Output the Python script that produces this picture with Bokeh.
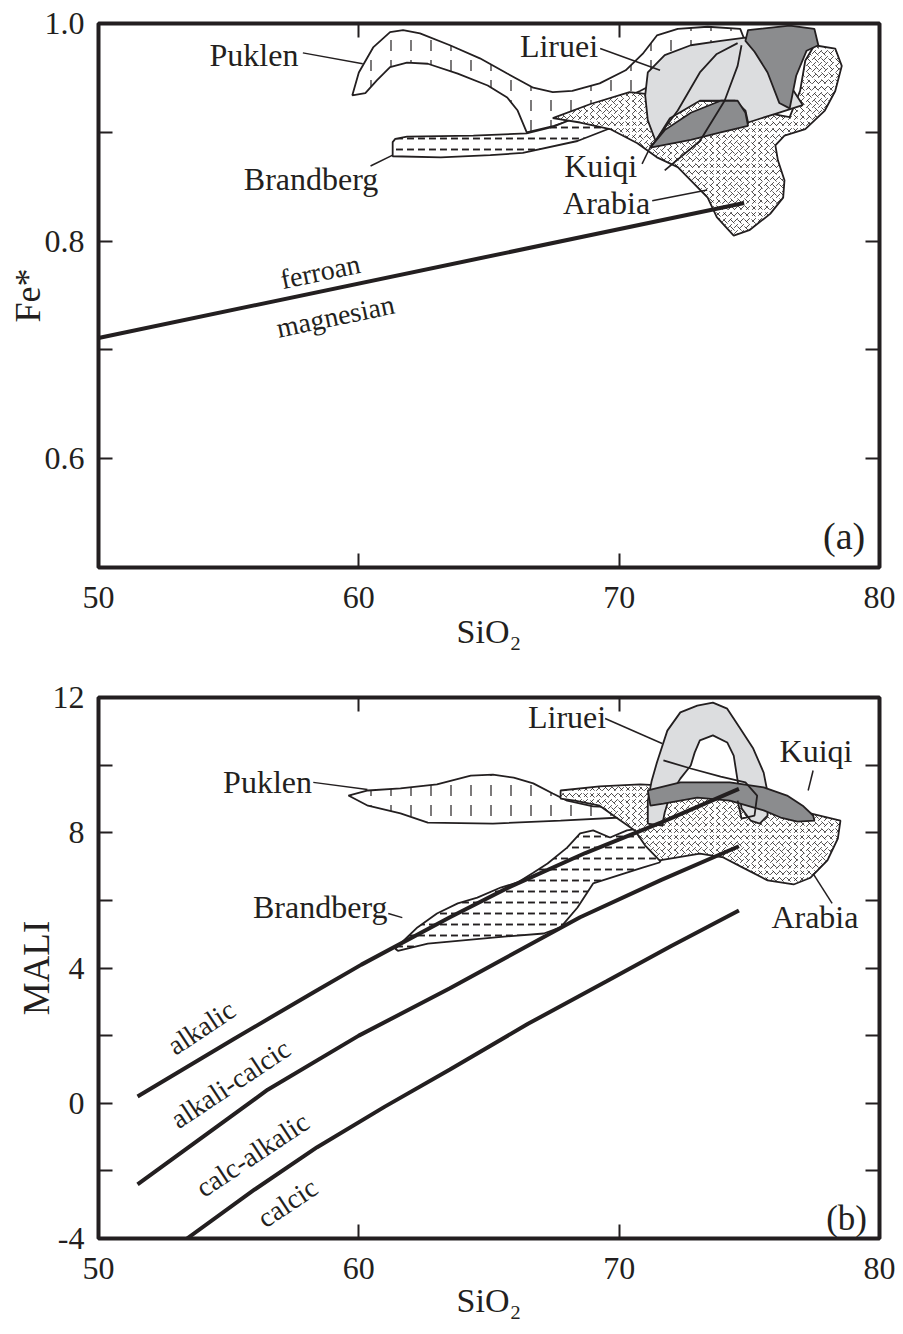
from bokeh.plotting import figure
from bokeh.models import Range1d, LinearAxis, FixedTicker
from bokeh.layouts import column
from bokeh.embed import file_html
from bokeh.resources import INLINE
from bokeh.core.properties import value

INK = "#231f20"
SERIF = "Liberation Serif"
LIGHT = "#dcdddf"
DARK = "#8b8c8e"

# ---------------- shared x axis ----------------
sio2_ticks = [50, 60, 70, 80]
sio2_title = "SiO\u2082"

# ---------------- panel (a): Fe* vs SiO2 ----------------
fe_title = "Fe*"
fe_labeled_ticks = [0.6, 0.8, 1.0]
fe_unlabeled_ticks = [0.5, 0.7, 0.9]
fe_all_ticks = [0.5, 0.6, 0.7, 0.8, 0.9, 1.0]
fe_tick_labels = {0.6: "0.6", 0.8: "0.8", 1.0: "1.0"}

ferroan_sio2 = [50.0, 74.8]
ferroan_fe = [0.711, 0.835]

puklen_a_sio2 = [59.75, 60.0, 60.55, 61.2, 61.7, 62.35, 63.5, 64.65, 65.7, 66.7,
                 67.45, 68.2, 69.25, 70.25, 70.9, 71.45, 72.25, 73.4, 74.65, 74.8,
                 73.5, 72.0, 70.5, 69.0, 67.5, 66.45, 66.1, 65.7, 64.95, 63.8,
                 62.65, 61.85, 61.2, 60.7, 60.25]
puklen_a_fe = [0.934, 0.955, 0.978, 0.992, 0.994, 0.991, 0.980, 0.968, 0.954, 0.941,
               0.937, 0.938, 0.945, 0.957, 0.972, 0.989, 0.995, 0.997, 0.995, 0.986,
               0.966, 0.950, 0.932, 0.918, 0.906, 0.900, 0.920, 0.932, 0.943, 0.954,
               0.963, 0.964, 0.960, 0.948, 0.936]

brand_a_sio2 = [61.3, 61.4, 61.85, 64.4, 66.45, 67.45, 68.5, 69.55, 70.8, 72.35, 73.9,
                74.85, 74.95, 73.9, 72.75, 71.2, 69.9, 68.4, 66.3, 65.05, 63.15, 61.3]
brand_a_fe = [0.891, 0.894, 0.896, 0.897, 0.899, 0.905, 0.915, 0.925, 0.938, 0.957, 0.975,
              0.986, 0.980, 0.959, 0.940, 0.922, 0.906, 0.892, 0.881, 0.879, 0.877, 0.878]

arabia_a_sio2 = [67.45, 68.9, 70.4, 71.55, 73.1, 74.65, 75.6, 76.55, 76.95, 77.15, 77.5,
                 78.3, 78.55, 78.3, 77.9, 77.15, 76.35, 76.0, 76.1, 76.35, 76.3, 75.8,
                 75.0, 74.4, 73.75, 73.4, 72.25, 71.45, 70.7, 69.65, 68.5]
arabia_a_fe = [0.913, 0.926, 0.937, 0.934, 0.929, 0.929, 0.918, 0.914, 0.938, 0.966, 0.980,
               0.977, 0.961, 0.938, 0.920, 0.903, 0.897, 0.888, 0.874, 0.856, 0.840, 0.825,
               0.810, 0.805, 0.822, 0.840, 0.868, 0.877, 0.890, 0.903, 0.909]

liruei_a_sio2 = [71.1, 71.75, 72.75, 73.9, 74.85, 75.6, 76.2, 76.65, 77.05, 76.0, 74.95,
                 74.85, 74.45, 73.1, 71.95, 71.4, 71.1, 71.0]
liruei_a_fe = [0.955, 0.971, 0.980, 0.984, 0.987, 0.980, 0.961, 0.940, 0.925, 0.917, 0.909,
               0.920, 0.929, 0.929, 0.913, 0.892, 0.911, 0.934]

kuiqi_a_sio2 = [[71.2, 71.75, 72.75, 73.9, 74.55, 74.85, 74.95, 73.9, 72.75],
                [74.95, 76.55, 77.5, 77.65, 77.2, 76.8, 76.55, 76.15, 75.7, 75.2, 74.85]]
kuiqi_a_fe = [[0.886, 0.902, 0.918, 0.929, 0.929, 0.918, 0.906, 0.900, 0.893],
              [0.994, 0.998, 0.995, 0.980, 0.975, 0.952, 0.922, 0.927, 0.955, 0.974, 0.984]]

inner_a_sio2 = [[71.2, 72.25, 73.1, 73.75, 74.55], [71.75, 73.1, 74.05, 74.55, 74.7]]
inner_a_fe = [[0.886, 0.920, 0.955, 0.972, 0.982], [0.865, 0.892, 0.929, 0.961, 0.980]]

a_names = ["Puklen", "Brandberg", "Liruei", "Kuiqi", "Arabia"]
a_name_sio2 = [57.68, 60.75, 69.19, 70.69, 71.19]
a_name_fe = [0.971, 0.8575, 0.979, 0.869, 0.835]
a_lead_x0 = [57.85, 60.45, 69.27, 70.88, 71.27]
a_lead_y0 = [0.973, 0.869, 0.977, 0.871, 0.837]
a_lead_x1 = [60.15, 61.3, 71.57, 71.27, 73.38]
a_lead_y1 = [0.963, 0.879, 0.957, 0.890, 0.847]

a_field_names = ["ferroan", "magnesian"]
a_field_sio2 = [58.52, 59.10]
a_field_fe = [0.772, 0.731]

a_panel_tag = ["(a)"]
a_tag_sio2 = [79.45]
a_tag_fe = [0.5285]

# ---------------- panel (b): MALI vs SiO2 ----------------
mali_title = "MALI"
mali_labeled_ticks = [-4, 0, 4, 8, 12]
mali_unlabeled_ticks = [-2, 2, 6, 10]
mali_all_ticks = [-4, -2, 0, 2, 4, 6, 8, 10, 12]
mali_tick_labels = {-4: "-4", 0: "0", 4: "4", 8: "8", 12: "12"}

alk_sio2 = [51.5, 55.2, 58.3, 60.1, 63.5, 65.8, 68.7, 71.6, 74.6]
alk_mali = [0.2, 1.9, 3.3, 4.1, 5.5, 6.4, 7.4, 8.3, 9.3]
alkcalc_sio2 = [51.5, 56.5, 60.0, 63.5, 65.4, 68.5, 71.6, 74.6]
alkcalc_mali = [-2.4, 0.4, 2.0, 3.4, 4.2, 5.5, 6.6, 7.6]
calc_sio2 = [53.4, 56.0, 58.4, 61.0, 63.5, 66.5, 69.5, 72.0, 74.6]
calc_mali = [-4.0, -2.55, -1.3, -0.1, 1.0, 2.35, 3.6, 4.65, 5.7]

puklen_b_sio2 = [59.6, 60.35, 61.6, 63.0, 64.3, 65.15, 65.95, 66.7, 67.45, 68.0, 69.0, 70.8,
                 71.25, 70.8, 67.75, 65.15, 62.65, 61.6, 60.35]
puklen_b_mali = [9.10, 9.25, 9.31, 9.43, 9.69, 9.72, 9.63, 9.46, 9.16, 8.95, 8.78, 8.72,
                 8.60, 8.48, 8.36, 8.27, 8.30, 8.57, 8.80]

brand_b_sio2 = [61.4, 62.25, 63.0, 63.8, 64.55, 65.45, 66.1, 66.7, 67.25, 68.0, 68.5, 69.0,
                69.65, 70.3, 71.55, 72.05, 71.55, 70.9, 69.0, 68.4, 67.75, 67.1, 65.15,
                62.65, 61.5]
brand_b_mali = [4.57, 5.20, 5.61, 5.91, 6.08, 6.38, 6.53, 6.82, 7.09, 7.56, 7.98, 8.07,
                7.86, 8.07, 8.21, 7.77, 7.12, 6.97, 6.50, 5.79, 5.20, 5.02, 4.90, 4.72, 4.51]

arabia_b_sio2 = [67.75, 69.25, 70.8, 72.35, 73.1, 74.65, 76.55, 77.7, 78.5, 78.4, 78.0,
                 77.35, 76.7, 75.7, 74.75, 74.0, 73.1, 71.55, 71.0, 70.6, 70.05, 69.25,
                 68.3, 67.75]
arabia_b_mali = [9.25, 9.37, 9.43, 9.37, 9.10, 8.95, 8.72, 8.51, 8.36, 7.83, 7.18, 6.67,
                 6.47, 6.59, 6.97, 7.27, 7.38, 7.18, 7.62, 8.07, 8.36, 8.80, 8.95, 9.01]

liruei_b_sio2 = [71.1, 71.1, 71.25, 71.45, 71.85, 72.35, 73.0, 73.6, 74.15, 74.65, 75.15,
                 75.55, 75.7, 75.7, 75.4, 75.05, 74.7, 74.55, 74.4, 74.15, 73.6, 73.1,
                 72.9, 72.75, 72.35, 71.95, 71.75, 71.65]
liruei_b_mali = [8.27, 8.95, 9.54, 10.08, 11.02, 11.56, 11.76, 11.85, 11.67, 11.08, 10.49,
                 9.78, 9.19, 8.51, 8.27, 8.36, 8.72, 9.54, 10.28, 10.67, 10.88, 10.73,
                 10.37, 9.99, 9.60, 9.10, 8.60, 8.21]

kuiqi_b_sio2 = [71.1, 72.35, 74.25, 75.55, 76.45, 77.05, 77.45, 77.5, 76.85, 76.2, 75.55,
                74.25, 73.0, 71.7, 71.2]
kuiqi_b_mali = [9.25, 9.49, 9.49, 9.34, 9.10, 8.80, 8.51, 8.36, 8.33, 8.45, 8.66, 8.95,
                9.04, 8.86, 8.80]

inner_b_sio2 = [[71.7, 72.75, 73.9, 74.85, 75.3, 75.2, 74.7, 74.55]]
inner_b_mali = [[10.14, 9.90, 9.66, 9.49, 9.10, 8.51, 8.42, 8.95]]

b_right_names = ["Puklen", "Brandberg", "Liruei"]
b_right_sio2 = [58.2, 61.1, 69.5]
b_right_mali = [9.49, 5.79, 11.41]
b_center_names = ["Kuiqi", "Arabia"]
b_center_sio2 = [77.56, 77.52]
b_center_mali = [10.43, 5.52]
b_lead_x0 = [58.25, 61.13, 69.46, 77.45, 78.18]
b_lead_y0 = [9.49, 5.61, 11.38, 9.84, 5.91]
b_lead_x1 = [60.33, 61.67, 71.65, 77.26, 77.45]
b_lead_y1 = [9.28, 5.49, 10.64, 9.25, 6.79]

b_field_names = ["alkalic", "alkali-calcic", "calc-alkalic", "calcic"]
b_field_sio2 = [53.95, 55.07, 55.91, 57.26]
b_field_mali = [2.24, 0.58, -1.52, -2.94]

b_panel_tag = ["(b)"]
b_tag_sio2 = [79.52]
b_tag_mali = [-3.41]


def style_axis(ax, overrides=None, standoff=0, title=None, title_size="34px",
               title_standoff=0):
    ax.axis_line_color = None
    for kind in ("major", "minor"):
        setattr(ax, kind + "_tick_in", 14)
        setattr(ax, kind + "_tick_out", 0)
        setattr(ax, kind + "_tick_line_color", INK)
        setattr(ax, kind + "_tick_line_width", 2)
    ax.major_label_text_font = SERIF
    ax.major_label_text_color = INK
    ax.major_label_text_font_size = "32px"
    ax.major_label_standoff = standoff
    if overrides:
        ax.major_label_overrides = overrides
    if title:
        ax.axis_label = title
        ax.axis_label_text_font = SERIF
        ax.axis_label_text_font_style = "normal"
        ax.axis_label_text_font_size = title_size
        ax.axis_label_text_color = INK
        ax.axis_label_standoff = title_standoff


def make_fig(height, btop, bbottom, yrange, ylab_ticks, yminor, yall, ylabels, ytitle,
             ytitle_size, ytitle_standoff, xtitle_standoff):
    p = figure(width=903, height=height, x_range=Range1d(50, 80), y_range=Range1d(*yrange),
               output_backend="svg", toolbar_location=None,
               x_axis_location=None, y_axis_location=None,
               min_border_left=98, min_border_right=24,
               min_border_top=btop, min_border_bottom=bbottom)
    p.grid.visible = False
    p.outline_line_color = INK
    p.outline_line_width = 4
    p.background_fill_color = "white"
    p.border_fill_color = "white"
    bx = LinearAxis(ticker=FixedTicker(ticks=sio2_ticks, minor_ticks=[]))
    style_axis(bx, standoff=19, title=sio2_title, title_size="34px",
               title_standoff=xtitle_standoff)
    p.add_layout(bx, "below")
    tx = LinearAxis(ticker=FixedTicker(ticks=[], minor_ticks=sio2_ticks))
    style_axis(tx)
    p.add_layout(tx, "above")
    ly = LinearAxis(ticker=FixedTicker(ticks=ylab_ticks, minor_ticks=yminor))
    style_axis(ly, overrides=ylabels, standoff=14, title=ytitle,
               title_size=ytitle_size, title_standoff=ytitle_standoff)
    p.add_layout(ly, "left")
    ry = LinearAxis(ticker=FixedTicker(ticks=[], minor_ticks=yall))
    style_axis(ry)
    p.add_layout(ry, "right")
    return p


def region(p, xs, ys, pattern, scale, weight, fill="white"):
    p.patch(xs, ys, fill_color=fill, line_color=INK, line_width=1.8,
            hatch_pattern=pattern, hatch_scale=scale, hatch_weight=weight, hatch_color=INK)


def txt(p, xs, ys, names, size, align="right", angle=0.0):
    p.text(x=xs, y=ys, text=names, text_font=value(SERIF), text_font_size=size,
           text_color=INK, text_align=align, text_baseline="middle", angle=angle)


# ---------------- figure (a) ----------------
pa = make_fig(665, 23, 98, (0.5, 1.0), fe_labeled_ticks, fe_unlabeled_ticks, fe_all_ticks,
              fe_tick_labels, fe_title, "36px", -6, 2)
region(pa, puklen_a_sio2, puklen_a_fe, "vertical_dash", 20, 1.2)
region(pa, brand_a_sio2, brand_a_fe, "horizontal_dash", 11, 1.9)
region(pa, arabia_a_sio2, arabia_a_fe, "right_diagonal_dash", 6, 0.8)
pa.patch(arabia_a_sio2, arabia_a_fe, fill_color=None, line_color=None,
         hatch_pattern="left_diagonal_dash", hatch_scale=7, hatch_weight=0.8, hatch_color=INK)
pa.patch(liruei_a_sio2, liruei_a_fe, fill_color=LIGHT, line_color=INK, line_width=1.8)
pa.patches(kuiqi_a_sio2, kuiqi_a_fe, fill_color=DARK, line_color=INK, line_width=1.8)
pa.multi_line(inner_a_sio2, inner_a_fe, line_color=INK, line_width=1.8)
pa.line(ferroan_sio2, ferroan_fe, line_color=INK, line_width=4)
pa.segment(a_lead_x0, a_lead_y0, a_lead_x1, a_lead_y1, line_color=INK, line_width=1.5)
txt(pa, a_name_sio2, a_name_fe, a_names, "32px")
txt(pa, a_field_sio2, a_field_fe, a_field_names, "28px", align="center", angle=0.206)
txt(pa, a_tag_sio2, a_tag_fe, a_panel_tag, "38px")

# ---------------- figure (b) ----------------
pb = make_fig(669, 32, 96, (-4, 12), mali_labeled_ticks, mali_unlabeled_ticks,
              mali_all_ticks, mali_tick_labels, mali_title, "37px", -7, 0)
region(pb, puklen_b_sio2, puklen_b_mali, "vertical_dash", 20, 1.2)
region(pb, brand_b_sio2, brand_b_mali, "horizontal_dash", 11, 1.9)
region(pb, arabia_b_sio2, arabia_b_mali, "right_diagonal_dash", 6, 0.8)
pb.patch(arabia_b_sio2, arabia_b_mali, fill_color=None, line_color=None,
         hatch_pattern="left_diagonal_dash", hatch_scale=7, hatch_weight=0.8, hatch_color=INK)
pb.patch(liruei_b_sio2, liruei_b_mali, fill_color=LIGHT, line_color=INK, line_width=1.8)
pb.patch(kuiqi_b_sio2, kuiqi_b_mali, fill_color=DARK, line_color=INK, line_width=1.8)
pb.multi_line(inner_b_sio2, inner_b_mali, line_color=INK, line_width=1.8)
pb.line(alk_sio2, alk_mali, line_color=INK, line_width=4)
pb.line(alkcalc_sio2, alkcalc_mali, line_color=INK, line_width=4)
pb.line(calc_sio2, calc_mali, line_color=INK, line_width=4)
pb.segment(b_lead_x0, b_lead_y0, b_lead_x1, b_lead_y1, line_color=INK, line_width=1.5)
txt(pb, b_right_sio2, b_right_mali, b_right_names, "32px")
txt(pb, b_center_sio2, b_center_mali, b_center_names, "32px", align="center")
txt(pb, b_field_sio2, b_field_mali, b_field_names, "28px", align="center", angle=0.588)
txt(pb, b_tag_sio2, b_tag_mali, b_panel_tag, "35px")

layout = column(pa, pb)
open("out.html", "w").write(file_html(layout, INLINE))
